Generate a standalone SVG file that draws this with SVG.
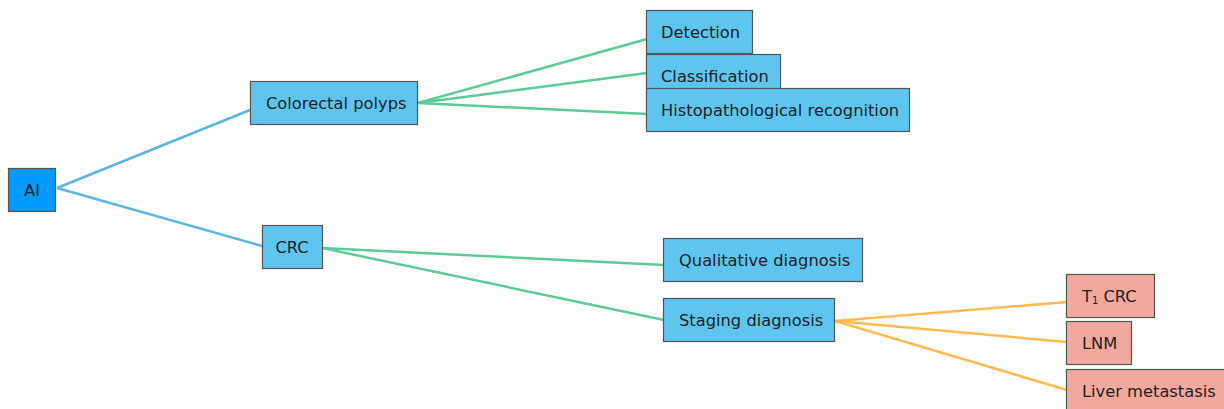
<svg xmlns="http://www.w3.org/2000/svg" width="1224" height="409" viewBox="0 0 1224 409">
<style>
.n rect{stroke:#555;stroke-width:1.2}
.b{fill:#5EC5F1}
.r{fill:#0099FF}
.p{fill:#F2A89C}
text{font-family:"DejaVu Sans","Verdana",sans-serif;font-size:16.3px;fill:#222;dominant-baseline:central}
.c line{stroke-width:2.5;fill:none}
.l1{stroke:#5BB4E2}
.l2{stroke:#5CCB96}
.l3{stroke:#FFBA52}
</style>
<rect width="1224" height="409" fill="#fff"/>
<g class="c" id="connectors">
<line class="l1" x1="57" y1="188" x2="250" y2="110"/>
<line class="l1" x1="57" y1="188" x2="262" y2="246"/>
<line class="l2" x1="418" y1="103" x2="647" y2="39"/>
<line class="l2" x1="418" y1="103" x2="647" y2="73"/>
<line class="l2" x1="418" y1="103" x2="647" y2="114"/>
<line class="l2" x1="322" y1="248" x2="664" y2="265"/>
<line class="l2" x1="322" y1="248" x2="664" y2="320"/>
<line class="l3" x1="835" y1="321" x2="1067" y2="302"/>
<line class="l3" x1="835" y1="321" x2="1067" y2="342"/>
<line class="l3" x1="835" y1="321" x2="1067" y2="390"/>
</g>
<g class="n" id="ai"><rect class="r" x="8.5" y="168.5" width="47" height="43"/><text x="32" y="190" text-anchor="middle">AI</text></g>
<g class="n" id="polyps"><rect class="b" x="250.5" y="81.5" width="167" height="43"/><text x="266" y="103">Colorectal polyps</text></g>
<g class="n" id="crc"><rect class="b" x="262.5" y="225.5" width="60" height="43"/><text x="292" y="247" text-anchor="middle">CRC</text></g>
<g class="n" id="detection"><rect class="b" x="646.5" y="10.5" width="106" height="43"/><text x="661" y="32">Detection</text></g>
<g class="n" id="classification"><rect class="b" x="646.5" y="54.5" width="134" height="43"/><text x="661" y="76">Classification</text></g>
<g class="n" id="histo"><rect class="b" x="646.5" y="88.5" width="263" height="43"/><text x="661" y="110">Histopathological recognition</text></g>
<g class="n" id="qualitative"><rect class="b" x="663.5" y="238.5" width="199" height="43"/><text x="679" y="260">Qualitative diagnosis</text></g>
<g class="n" id="staging"><rect class="b" x="663.5" y="298.5" width="171" height="43"/><text x="679" y="320">Staging diagnosis</text></g>
<g class="n" id="t1crc"><rect class="p" x="1066.5" y="274.5" width="88" height="43"/><text x="1082" y="296">T<tspan font-size="10" dy="4">1</tspan><tspan dy="-4"> CRC</tspan></text></g>
<g class="n" id="lnm"><rect class="p" x="1066.5" y="321.5" width="65" height="43"/><text x="1082" y="343">LNM</text></g>
<g class="n" id="liver"><rect class="p" x="1066.5" y="369.5" width="160" height="43"/><text x="1082" y="391">Liver metastasis</text></g>
</svg>
